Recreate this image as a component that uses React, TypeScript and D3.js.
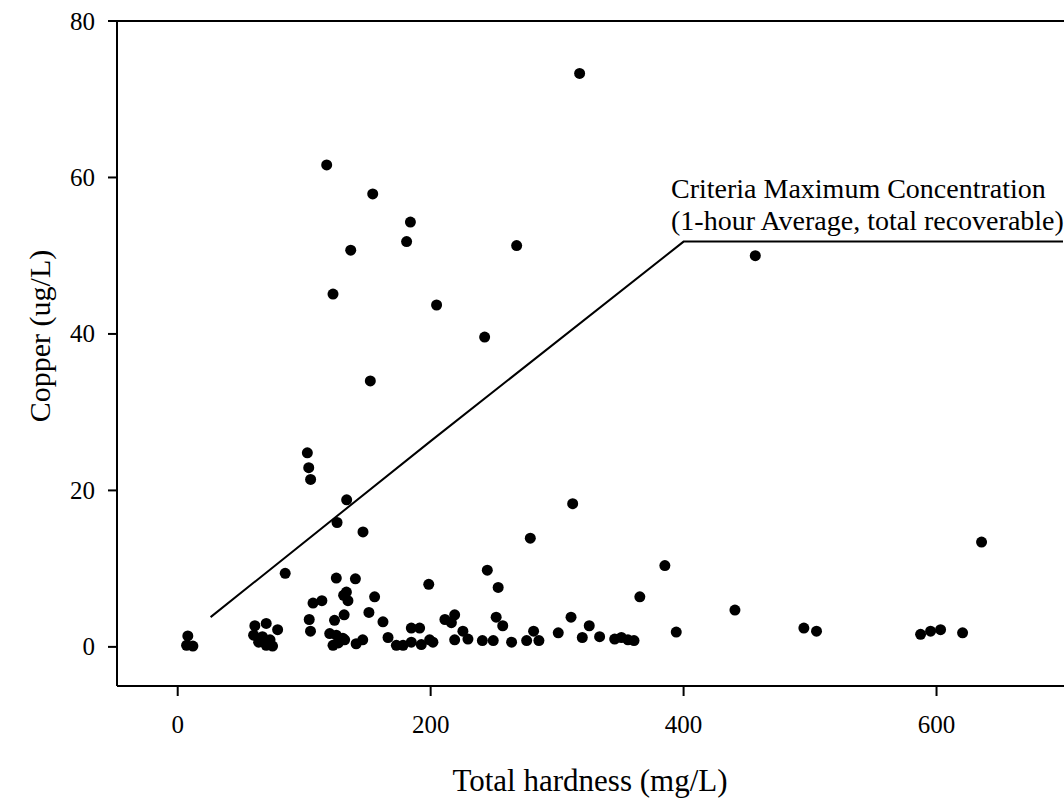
import React from "react";
import * as d3 from "d3";

const hardness = [
  8, 7, 12,
  61, 70, 79, 60, 67, 64, 73, 70, 75,
  85, 104, 105, 107, 114, 102.5, 103.6, 105.1,
  117.8, 122.8, 126, 133.6, 146.5, 125.4, 140.5, 133.4, 131.2, 134.6,
  155.7, 131.6, 151.2, 162.3, 124, 120.2, 125.4, 130.6, 122.8, 132, 127,
  141.1, 146.3, 166.3, 172.9, 178.2, 184.7, 191.3, 184.7, 192.6, 199.2, 201.8,
  198.5, 211.3, 219, 216.4, 219, 225.5, 229.5, 240.9, 249.5, 251.8, 257,
  244.8, 253.4, 264, 275.9, 281.4, 285.6, 278.8, 300.9, 311, 312.3,
  319.9, 325.4, 333.6, 345.5, 350.8, 356, 360.8, 365.4, 385.2, 394.2,
  440.6, 495.1, 505.1, 587.4, 595.3, 603.2, 620.6, 635.6,
  154.2, 184, 181, 136.8, 204.7, 152.3, 242.7, 268, 317.8, 456.7,
];
const copper = [
  1.4, 0.2, 0.1,
  2.7, 3.0, 2.2, 1.5, 1.3, 0.6, 0.9, 0.2, 0.1,
  9.4, 3.5, 2.0, 5.6, 5.9, 24.8, 22.9, 21.4,
  61.6, 45.1, 15.9, 18.8, 14.7, 8.8, 8.7, 7.0, 6.6, 5.9,
  6.4, 4.1, 4.4, 3.2, 3.4, 1.7, 1.5, 1.1, 0.2, 0.9, 0.5,
  0.4, 0.9, 1.2, 0.2, 0.2, 2.4, 2.4, 0.6, 0.3, 0.9, 0.6,
  8.0, 3.5, 4.1, 3.1, 0.9, 2.0, 1.0, 0.8, 0.8, 3.8, 2.7,
  9.8, 7.6, 0.6, 0.8, 2.0, 0.8, 13.9, 1.8, 3.8, 18.3,
  1.2, 2.7, 1.3, 1.0, 1.2, 0.9, 0.8, 6.4, 10.4, 1.9,
  4.7, 2.4, 2.0, 1.6, 2.0, 2.2, 1.8, 13.4,
  57.9, 54.3, 51.8, 50.7, 43.7, 34.0, 39.6, 51.3, 73.3, 50.0,
];

// Criteria Maximum Concentration line
const cmcHardness = [26, 200, 400, 700];
const cmcCopper = [3.8, 26.3, 51.8, 51.8];

const xTicks = [0, 200, 400, 600];
const yTicks = [0, 20, 40, 60, 80];

const xTitle = "Total hardness (mg/L)";
const yTitle = "Copper (ug/L)";
const noteLines = ["Criteria Maximum Concentration", "(1-hour Average, total recoverable)"];

const W = 1064;
const H = 801;
const FONT = "'Liberation Serif', 'Times New Roman', serif";

export default function App() {
  const x = d3.scaleLinear().domain([-48, 700]).range([117, 1063]);
  const y = d3.scaleLinear().domain([-5, 80]).range([686, 21]);

  const cmcPts: [number, number][] = cmcHardness.map((h, i) => [h, cmcCopper[i]]);
  const line = d3
    .line<[number, number]>()
    .x((d) => x(d[0]))
    .y((d) => y(d[1]));

  const left = x(-48);
  const bottom = y(-5);
  const top = y(80);

  return (
    <svg
      width={W}
      height={H}
      style={{ position: "absolute", left: 0, top: 0, background: "#fff" }}
      fontFamily={FONT}
    >
      <rect x={0} y={0} width={W} height={H} fill="#fff" />
      {/* frame */}
      <line x1={left} y1={top} x2={left} y2={bottom} stroke="#000" strokeWidth={2} />
      <line x1={left - 9} y1={top} x2={W} y2={top} stroke="#000" strokeWidth={2} />
      <line x1={left} y1={bottom} x2={W} y2={bottom} stroke="#000" strokeWidth={2} />

      {/* y ticks */}
      {yTicks.map((t) => (
        <g key={"y" + t}>
          <line x1={left - 9} x2={left} y1={y(t)} y2={y(t)} stroke="#000" strokeWidth={2} />
          <text
            x={left - 22}
            y={y(t)}
            dy="0.34em"
            textAnchor="end"
            fontSize={25}
            fill="#000"
          >
            {t}
          </text>
        </g>
      ))}

      {/* x ticks */}
      {xTicks.map((t) => (
        <g key={"x" + t}>
          <line x1={x(t)} x2={x(t)} y1={bottom} y2={bottom + 10} stroke="#000" strokeWidth={2} />
          <text x={x(t)} y={733} textAnchor="middle" fontSize={25} fill="#000">
            {t}
          </text>
        </g>
      ))}

      {/* CMC line */}
      <path d={line(cmcPts) || ""} fill="none" stroke="#000" strokeWidth={2} />

      {/* points */}
      {hardness.map((h, i) => (
        <circle key={i} cx={x(h)} cy={y(copper[i])} r={5.5} fill="#000" />
      ))}

      {/* annotation */}
      {noteLines.map((s, i) => (
        <text key={s} x={671} y={198 + i * 32} fontSize={28} fill="#000">
          {s}
        </text>
      ))}

      {/* axis titles */}
      <text x={590} y={791} textAnchor="middle" fontSize={31} fill="#000">
        {xTitle}
      </text>
      <text
        transform={`translate(50, 336) rotate(-90)`}
        textAnchor="middle"
        fontSize={30}
        fill="#000"
      >
        {yTitle}
      </text>
    </svg>
  );
}
